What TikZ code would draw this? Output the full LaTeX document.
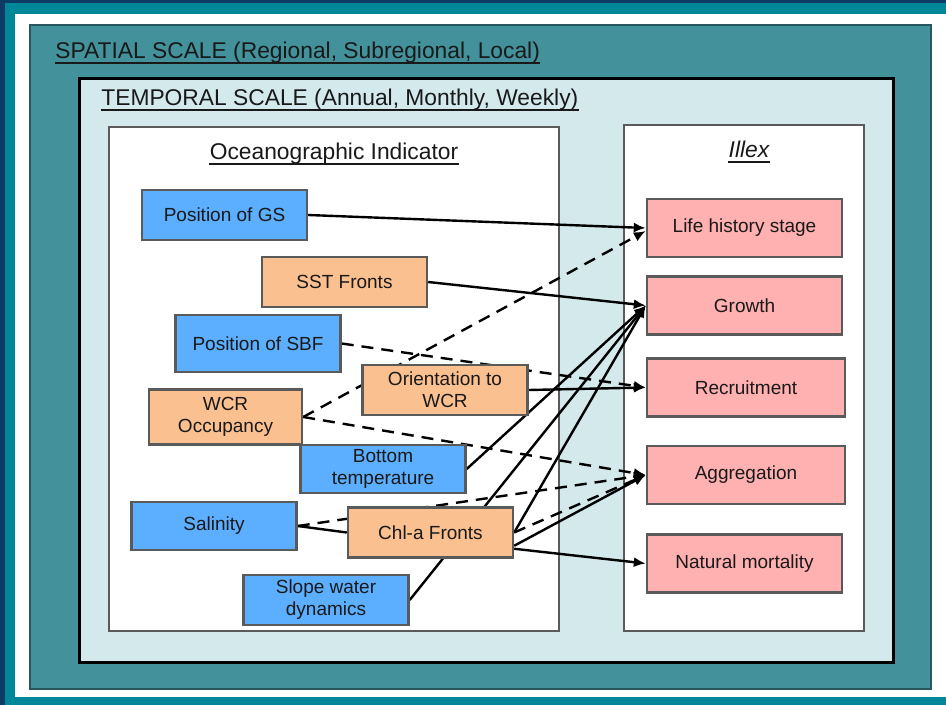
\documentclass[tikz,border=0pt]{standalone}
\usepackage{fontspec}
\setmainfont{Liberation Sans}
\usetikzlibrary{arrows.meta}
\pgfdeclarelayer{scales}
\pgfdeclarelayer{links}
\pgfsetlayers{scales,links,main}
\definecolor{slidenavy}{HTML}{0D3B66}
\definecolor{slideteal}{HTML}{00889A}
\definecolor{spatial}{HTML}{43919B}
\definecolor{temporal}{HTML}{D3E9EC}
\definecolor{boxline}{HTML}{5A5A5A}
\definecolor{physblue}{HTML}{5CAEFF}
\definecolor{ecotan}{HTML}{FAC090}
\definecolor{illexpink}{HTML}{FFB0B0}
\tikzset{indicator/.style={draw=boxline,line width=1.2pt,minimum width=82.5pt,
minimum height=25pt,inner sep=1pt,align=center,text=black!90,
font=\fontsize{9.5}{11}\selectfont},
phys/.style={indicator,fill=physblue},
eco/.style={indicator,fill=ecotan},
response/.style={indicator,fill=illexpink,minimum width=97.5pt,minimum height=29pt},
heading/.style={anchor=base,inner sep=0pt,text=black!90,font=\fontsize{11.4}{13}\selectfont},
underlined/.style={line width=0.9pt,black!90},
link/.style={line width=1.2pt,-{Latex[length=6pt,width=5pt]}},
weaklink/.style={link,dash pattern=on 6pt off 4pt}}

\begin{document}
\begin{tikzpicture}[x=0.5pt,y=-0.5pt]
	% Slide
	\useasboundingbox (0,0) rectangle (946,705);
	\begin{pgfonlayer}{scales}
	\fill[slidenavy] (0,0) rectangle (946,705);
	\fill[slideteal] (5,3) rectangle (946,705);
	\fill[white] (15,14) rectangle (946,697);
	
	% Scales
	\draw[spatial!60!black,line width=1pt,fill=spatial] (30,25) rectangle (931,689);
	\draw[black,line width=1.5pt,fill=temporal] (79,79) rectangle (893,662);
	\draw[boxline,line width=1.2pt,fill=white] (109,127) rectangle (559,631);
	\draw[boxline,line width=1.2pt,fill=white] (624,125) rectangle (864,631);
	\end{pgfonlayer}
	
	\node[heading,anchor=base west] (spatialtitle) at (55,59) {SPATIAL SCALE (Regional, Subregional, Local)};
	\node[heading,anchor=base west] (temporaltitle) at (101,106) {TEMPORAL SCALE (Annual, Monthly, Weekly)};
	\node[heading] (oceantitle) at (334,160) {Oceanographic Indicator};
	\node[heading] (illextitle) at (749,158) {\itshape Illex};
	\foreach \t in {spatialtitle,temporaltitle,oceantitle,illextitle}
		\draw[underlined] ([yshift=-2pt]\t.base west) -- ([yshift=-2pt]\t.base east);
	
	% Oceanographic indicators
	\node[phys] (gs) at (224.5,215) {Position of GS};
	\node[eco] (sst) at (344.5,282) {SST Fronts};
	\node[phys,minimum height=28.5pt] (sbf) at (258,343.5) {Position of SBF};
	\node[eco] (orient) at (445,390) {Orientation to\\WCR};
	\node[eco,minimum width=76.5pt,minimum height=27.5pt] (wcr) at (225.5,417) {WCR\\Occupancy};
	\node[phys,minimum height=24pt] (btemp) at (383,469) {Bottom\\temperature};
	\node[phys,minimum height=24pt] (sal) at (214,526) {Salinity};
	\node[eco] (chl) at (430.5,532.5) {Chl-a Fronts};
	\node[phys] (slope) at (326,600) {Slope water\\dynamics};
	
	% Illex
	\node[response] (lhs) at (744.5,228) {Life history stage};
	\node[response] (growth) at (744.5,305.5) {Growth};
	\node[response,minimum width=99pt] (recruit) at (746,387.5) {Recruitment};
	\node[response,minimum width=99pt] (aggreg) at (746,475) {Aggregation};
	\node[response] (natmort) at (744.5,563.5) {Natural mortality};
	
	\begin{pgfonlayer}{links}
	\draw[link] (gs.east) -- (lhs.west);
	\draw[link] (sst.east) -- (growth.west);
	\draw[weaklink] (sbf.east) -- (recruit.west);
	\draw[weaklink] (wcr.east) -- ([yshift=-1.5pt]lhs.west);
	\draw[link] (orient.east) -- (recruit.west);
	\draw[weaklink] (wcr.east) -- (aggreg.west);
	\draw[link] (btemp.east) -- (growth.west);
	\draw[weaklink] (sal.east) -- (aggreg.west);
	\draw[line width=1.2pt] (sal.east) -- (chl.west);
	\draw[link] (chl.east) -- (growth.west);
	\draw[weaklink] (chl.east) -- (aggreg.west);
	\draw[link] (chl.-9) -- (aggreg.west);
	\draw[link] (chl.-11) -- (natmort.west);
	\draw[link] (slope.east) -- (growth.west);
	\end{pgfonlayer}
\end{tikzpicture}
\end{document}
